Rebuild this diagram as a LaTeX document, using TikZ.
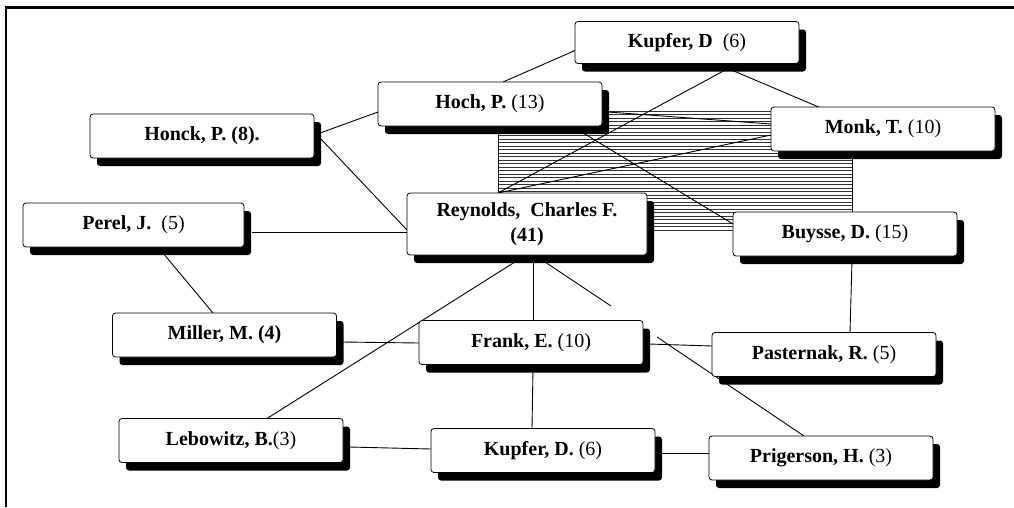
\documentclass[tikz,border=0pt]{standalone}
\usepackage{fontspec}
\setmainfont{Liberation Serif}
\usetikzlibrary{shadows,backgrounds}
\tikzset{
  person/.style={draw=black, line width=0.8pt, rounded corners=3pt, fill=white,
    minimum width=224pt, minimum height=44pt, inner sep=0pt, align=center,
    font=\fontsize{20}{27}\selectfont\bfseries,
    drop shadow={shadow xshift=7pt, shadow yshift=-8pt, fill=black, opacity=1}},
  link/.style={draw=black, line width=0.9pt},
  hatchline/.style={draw=black!80, line width=1pt},
  hatchedge/.style={draw=black, line width=0.9pt},
  frameline/.style={draw=black}
}
\newcommand{\num}[1]{\textmd{#1}}
\begin{document}
\begin{tikzpicture}[x=1pt,y=-1pt]
\useasboundingbox (0,0) rectangle (1014,507);
% frame
\draw[frameline, line width=3pt] (4.5,7.5) -- (1014,7.5);
\draw[frameline, line width=2pt] (5.5,7) -- (5.5,507);

% nodes
\node[person, minimum height=42pt] (kupA) at (687,42.5) {Kupfer, D~ \num{(6)}};
\node[person] (hoch) at (490,104) {Hoch, P. \num{(13)}};
\node[person] (honck) at (202,136) {Honck, P. (8).};
\node[person] (monk) at (883,129) {Monk, T. \num{(10)}};
\node[person] (buysse) at (845,234) {Buysse, D. \num{(15)}};
\node[person, minimum width=221pt] (perel) at (133.5,225) {Perel, J.~ \num{(5)}};
\node[person, minimum width=240pt, minimum height=62pt] (reyn) at (527,224) {\raisebox{-2pt}{Reynolds,~ Charles F.}\\(41)};
\node[person] (miller) at (224.5,335) {Miller, M. (4)};
\node[person] (frank) at (531,342.5) {Frank, E. \num{(10)}};
\node[person] (lebo) at (231,440.5) {Lebowitz, B.\num{(3)}};
\node[person] (kupB) at (543,450.5) {Kupfer, D. \num{(6)}};
\node[person] (past) at (824,354.5) {Pasternak, R. \num{(5)}};
\node[person] (prig) at (821,458) {Prigerson, H. \num{(3)}};
\coordinate (loose) at (611,306);

\begin{scope}[on background layer]
  % hatched panel
  \foreach \yy in {111,114.5,...,230} {
    \draw[hatchline] (498,\yy) -- (852,\yy);
  }
  \draw[hatchedge] (498,110) -- (498,231);
  \draw[hatchedge] (852,110) -- (852,231);
  % connectors
  \draw[link] ([shift={(-112,8)}]kupA.center) -- ([shift={(13,-22)}]hoch.center);
  \draw[link] ([shift={(41,26)}]kupA.center) -- ([shift={(-29,-31)}]reyn.center);
  \draw[link] ([shift={(41,26)}]kupA.center) -- ([shift={(-62,-21)}]monk.center);
  \draw[link] ([shift={(118,8)}]hoch.center) -- ([shift={(-112,-5)}]monk.center);
  \draw[link] ([shift={(-29,-31)}]reyn.center) -- ([shift={(-112,6)}]monk.center);
  \draw[link] ([shift={(85,24)}]hoch.center) -- ([shift={(-112,-10)}]buysse.center);
  \draw[link] ([shift={(118,-3)}]honck.center) -- ([shift={(-112,8)}]hoch.center);
  \draw[link] ([shift={(118,2)}]honck.center) -- ([shift={(-120,6)}]reyn.center);
  \draw[link] ([shift={(118,7)}]perel.center) -- ([shift={(-120,8)}]reyn.center);
  \draw[link] ([shift={(29.5,28)}]perel.center) -- ([shift={(-11.5,-22)}]miller.center);
  \draw[link] ([shift={(-9,36)}]reyn.center) -- ([shift={(36,-22)}]lebo.center);
  \draw[link] ([shift={(6,36)}]reyn.center) -- ([shift={(2,-21)}]frank.center);
  \draw[link] ([shift={(15,36)}]reyn.center) -- (loose);
  \draw[link] ([shift={(118,7)}]miller.center) -- ([shift={(-112,0.5)}]frank.center);
  \draw[link] ([shift={(118,1.5)}]frank.center) -- ([shift={(-112,-8.5)}]past.center);
  \draw[link] ([shift={(126,-5.5)}]frank.center) -- ([shift={(-17,-22)}]prig.center);
  \draw[link] ([shift={(2,25)}]frank.center) -- ([shift={(-11,-22)}]kupB.center);
  \draw[link] ([shift={(118,6.5)}]lebo.center) -- ([shift={(-112,-1.5)}]kupB.center);
  \draw[link] ([shift={(118,2.5)}]kupB.center) -- ([shift={(-112,-5)}]prig.center);
  \draw[link] ([shift={(7,26)}]buysse.center) -- ([shift={(26,-22)}]past.center);
\end{scope}
\end{tikzpicture}
\end{document}
